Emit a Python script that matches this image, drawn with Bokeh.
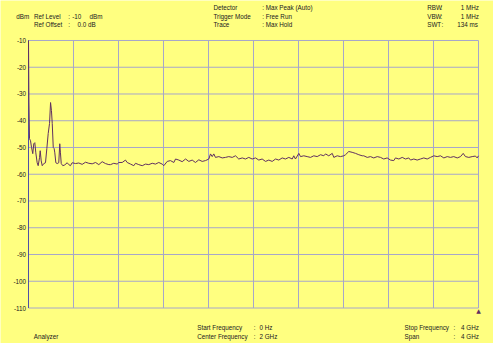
from bokeh.plotting import figure
from bokeh.models import Label, Range1d
from bokeh.core.properties import value
from bokeh.embed import file_html
from bokeh.resources import INLINE

# Trace data: frequency (MHz) and level (dBm)
freq_mhz = [0, 4, 9, 18, 27, 38, 47, 56, 65, 77, 86, 98, 104, 113, 122, 136, 151, 163, 175, 187,
            196, 204, 211, 220, 228, 234, 243, 255, 269, 278, 284, 291, 305, 323, 344, 358, 373, 388,
            418, 447, 477, 507, 536, 566, 596, 625, 655, 684, 714, 729, 758, 788, 803, 833, 862, 877,
            907, 936, 951, 980, 1011, 1040, 1069, 1100, 1129, 1158, 1188, 1203, 1233, 1262, 1292,
            1307, 1336, 1366, 1396, 1425, 1455, 1484, 1514, 1544, 1573, 1603, 1618, 1633, 1647, 1662,
            1692, 1722, 1751, 1780, 1811, 1840, 1869, 1900, 1929, 1958, 1988, 2018, 2047, 2077, 2107,
            2136, 2166, 2196, 2225, 2255, 2284, 2314, 2344, 2358, 2373, 2403, 2418, 2447, 2477, 2507,
            2536, 2566, 2596, 2625, 2640, 2669, 2700, 2714, 2744, 2773, 2803, 2818, 2847, 2877, 2907,
            2936, 2966, 2980, 3011, 3040, 3069, 3100, 3129, 3158, 3188, 3218, 3247, 3262, 3292, 3322,
            3351, 3380, 3396, 3425, 3455, 3484, 3514, 3544, 3573, 3603, 3633, 3662, 3692, 3722, 3751,
            3780, 3811, 3840, 3864, 3884, 3914, 3944, 3973, 3988, 4000]
level_dbm = [-10, -33, -46.7, -47.5, -50, -52.3, -48.6, -48.2, -52, -55.7, -56.8, -53.8, -51.2, -55,
             -56.8, -56, -55.7, -50.4, -44.8, -41, -33.2, -36.2, -41, -50, -50.4, -52, -55.7, -56,
             -55.7, -48.6, -52, -56, -56.8, -56.5, -55.7, -56.4, -56.8, -55.7, -56, -55.8, -56.3,
             -55.5, -55.9, -56.1, -55.6, -56.4, -55.3, -56, -56.4, -56.4, -55.9, -56.2, -55.6, -55.6,
             -54.7, -55.6, -56.2, -56.8, -55.9, -56.4, -56.8, -56.2, -56.4, -55.9, -56.2, -55.6,
             -56.2, -56.8, -55.2, -54.9, -55.6, -54.3, -54.7, -55.3, -54.3, -55.2, -54.7, -55.6,
             -54.6, -55.2, -54.9, -54.3, -52.4, -53.4, -52.4, -53.7, -53.4, -53.9, -53.7, -53.4,
             -53.7, -53.1, -54.3, -53.9, -54.3, -53.7, -54.3, -53.9, -54.7, -54.3, -55.2, -54.7,
             -55.2, -54.3, -54.7, -53.9, -54.3, -53.7, -54.3, -53.1, -54.3, -52.2, -53.4, -53.1,
             -53.4, -53.7, -53.1, -53.4, -52.7, -53.1, -52.4, -53.1, -52.2, -53.7, -53.1, -53.4,
             -53.1, -52.7, -51.5, -51.8, -52.2, -52.7, -53.1, -53.1, -53.7, -53.4, -53.9, -53.4,
             -53.7, -54.3, -53.9, -54.7, -54.9, -53.9, -54.3, -53.7, -54.3, -53.9, -54.7, -54.3,
             -54.7, -54.3, -53.9, -54.3, -53.7, -53.1, -53.4, -53.1, -53.9, -53.4, -53.7, -53.4,
             -53.9, -53.4, -52.2, -53.4, -53.7, -53.4, -53.2, -53.9, -53.1]

y_ticks = [-10, -20, -30, -40, -50, -60, -70, -80, -90, -100, -110]
y_tick_labels = ["-10", "-20", "-30", "-40", "-50", "-60", "-70", "-80", "-90", "-100", "-110"]
x_grid_ghz = [0, 0.4, 0.8, 1.2, 1.6, 2.0, 2.4, 2.8, 3.2, 3.6, 4.0]

freq_ghz = [f / 1000.0 for f in freq_mhz]

BG = "#FFFF80"
GRID = "#A6A6CA"
TRACE = "#603060"
TXT = "#202020"
FONT = "Liberation Sans"
FS = "6.3px"

# frame covers the whole canvas; 0..4 GHz -> px 28..478, -10..-110 dBm -> px 40..307.5
p = figure(width=493, height=343, output_backend="svg", toolbar_location=None,
           x_range=Range1d(-0.24889, 4.13333), y_range=Range1d(-123.271, 4.953),
           min_border_left=0, min_border_right=0, min_border_top=0, min_border_bottom=0)
p.background_fill_color = BG
p.border_fill_color = BG
p.outline_line_color = None
p.axis.visible = False
p.grid.visible = False

y_lo, y_hi = y_ticks[-1], y_ticks[0]
x_lo, x_hi = x_grid_ghz[0], x_grid_ghz[-1]

# grid
p.segment(x0=x_grid_ghz, y0=[y_lo] * len(x_grid_ghz), x1=x_grid_ghz, y1=[y_hi] * len(x_grid_ghz),
          line_color=GRID, line_width=1)
p.segment(x0=[x_lo] * len(y_ticks), y0=y_ticks, x1=[x_hi] * len(y_ticks), y1=y_ticks,
          line_color=GRID, line_width=1)
# left axis line
p.segment(x0=[x_lo], y0=[y_lo], x1=[x_lo], y1=[y_hi], line_color="#5050A8", line_width=1)

# y tick labels
p.text(x=[-0.022] * len(y_ticks), y=y_ticks, text=y_tick_labels, text_font=value(FONT),
       text_font_size=FS, text_color=TXT, text_align="right", text_baseline="middle")

# trace
p.line(freq_ghz, level_dbm, line_color=TRACE, line_width=1)


def lab(x, y, text, align="left"):
    p.add_layout(Label(x=x, y=y, text=text, text_font=FONT, text_font_size=FS,
                       text_color=TXT, text_align=align, text_baseline="middle"))


yA, yB, yC = 2.45, -0.92, -4.13
lab(-0.109, yB, "dBm")
lab(0.049, yB, "Ref Level")
lab(0.353, yB, ":")
lab(0.388, yB, "-10")
lab(0.542, yB, "dBm")
lab(0.049, yC, "Ref Offset")
lab(0.353, yC, ":")
lab(0.436, yC, "0.0 dB")

lab(1.644, yA, "Detector")
lab(1.644, yB, "Trigger Mode")
lab(1.644, yC, "Trace")
lab(2.077, yA, ": Max Peak (Auto)")
lab(2.077, yB, ": Free Run")
lab(2.077, yC, ": Max Hold")

lab(3.544, yA, "RBW")
lab(3.544, yB, "VBW")
lab(3.544, yC, "SWT")
lab(3.662, yA, ":")
lab(3.662, yB, ":")
lab(3.671, yC, ":")
lab(4.003, yA, "1 MHz", "right")
lab(4.003, yB, "1 MHz", "right")
lab(3.995, yC, "134 ms", "right")

yD, yE = -117.18, -120.54
lab(0.047, yE, "Analyzer")
lab(1.50, yD, "Start Frequency")
lab(1.50, yE, "Center Frequency")
lab(2.003, yD, ":")
lab(2.003, yE, ":")
lab(2.053, yD, "0 Hz")
lab(2.053, yE, "2 GHz")
lab(3.342, yD, "Stop Frequency")
lab(3.342, yE, "Span")
lab(3.778, yD, ":")
lab(3.778, yE, ":")
lab(4.003, yD, "4 GHz", "right")
lab(4.003, yE, "4 GHz", "right")

p.add_layout(Label(x=4.0, y=-110.9, text="\u25B2", text_font="DejaVu Sans", text_font_size="6px",
                   text_color=TRACE, text_align="center", text_baseline="middle"))

html = file_html(p, INLINE)
html = html.replace("<body>", '<body style="margin:0;overflow:hidden;background-color:%s;">' % BG, 1)
open("out.html", "w").write(html)
